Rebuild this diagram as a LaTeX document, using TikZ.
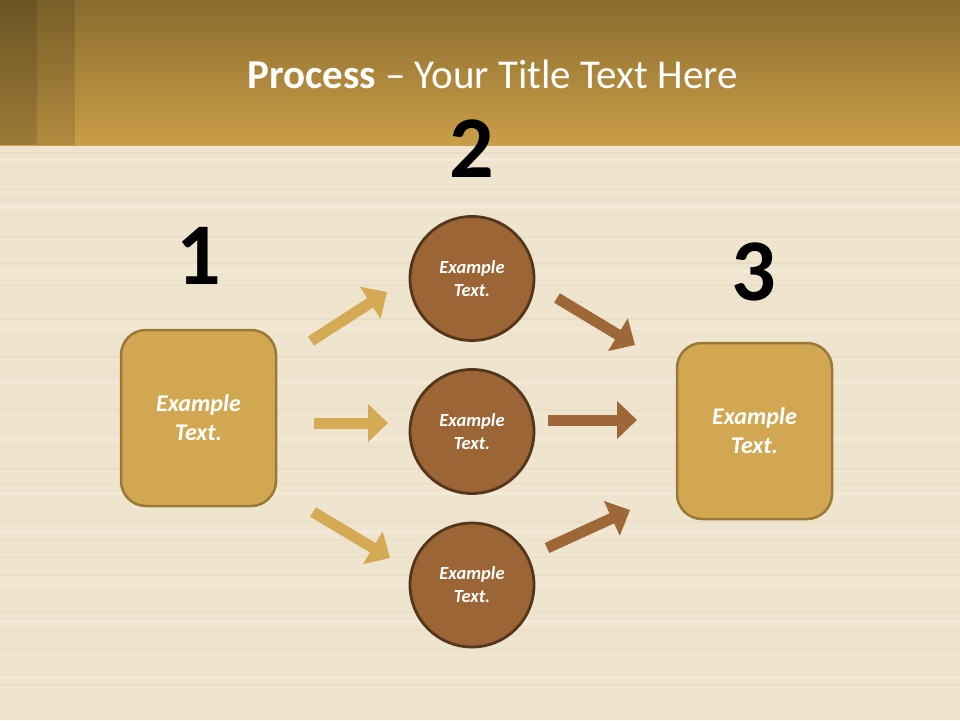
\documentclass[tikz,border=0pt]{standalone}
\usepackage{fontspec}
\setmainfont{Carlito}
\usetikzlibrary{arrows.meta}
\definecolor{woodbg}{RGB}{239,229,207}
\definecolor{woodline}{RGB}{214,200,170}
\definecolor{woodlight}{RGB}{248,242,228}
\definecolor{hdtop}{RGB}{138,108,46}
\definecolor{hdbot}{RGB}{202,158,72}
\definecolor{boxfill}{RGB}{209,167,82}
\definecolor{boxline}{RGB}{154,120,56}
\definecolor{circfill}{RGB}{155,101,53}
\definecolor{circline}{RGB}{85,54,26}
\definecolor{goldarrow}{RGB}{212,170,85}
\definecolor{brownarrow}{RGB}{158,103,56}
\tikzset{
  stepbox/.style={draw=boxline, line width=2.5pt, fill=boxfill, rounded corners=25pt,
    minimum width=155pt, minimum height=176pt, inner sep=0pt,
    text=white, font=\fontsize{24}{29}\selectfont\bfseries\itshape, align=center},
  stepcirc/.style={draw=circline, line width=2.8pt, fill=circfill, circle,
    minimum size=124pt, inner sep=0pt,
    text=white, font=\fontsize{18.5}{23}\selectfont\bfseries\itshape, align=center},
  bignum/.style={inner sep=0pt, font=\fontsize{88}{88}\selectfont\bfseries, text=black},
  garrow/.style={draw=goldarrow, line width=11pt, -{Triangle[length=20pt,width=37pt]}},
  barrow/.style={draw=brownarrow, line width=11pt, -{Triangle[length=20pt,width=37pt]}}
}
\begin{document}
\begin{tikzpicture}[x=1pt,y=1pt]
\useasboundingbox (0,0) rectangle (960,-720);
% wood background
\fill[woodbg] (0,0) rectangle (960,-720);
\foreach \yy/\oo in {152/0.3,166/0.2,188/0.18,199/0.25,214/0.15,236/0.22,262/0.25,284/0.18,301/0.15,318/0.22,356/0.25,372/0.15,391/0.18,409/0.22,446/0.18,468/0.25,483/0.15,521/0.22,539/0.15,556/0.18,574/0.25,611/0.18,629/0.22,648/0.15,684/0.25,701/0.15}
  \fill[woodline, opacity=\oo] (0,-\yy) rectangle (960,-\yy-1.5);
\foreach \yy in {158,205,270,327,381,438,492,530,583,620,676}
  \fill[woodlight, opacity=0.4] (0,-\yy) rectangle (960,-\yy-3);
% header
\shade[top color=hdtop, bottom color=hdbot] (0,0) rectangle (960,-145);
\fill[black, opacity=0.22] (0,0) rectangle (37,-145);
\fill[black, opacity=0.12] (37,0) rectangle (75,-145);
\node[anchor=base, inner sep=0pt, text=white, font=\fontsize{41}{46}\selectfont]
  (title) at (492.5,-88.5) {\textbf{Process} -- Your Title Text Here};
% numbers
\node[bignum] (n1) at (199,-256) {1};
\node[bignum] (n2) at (472,-149) {2};
\node[bignum] (n3) at (754,-272) {3};
% boxes
\node[stepbox] (b1) at (198.5,-418) {Example\\Text.};
\node[stepbox] (b3) at (754.5,-431) {Example\\Text.};
% circles
\node[stepcirc] (c1) at (472,-278.5) {Example\\Text.};
\node[stepcirc] (c2) at (472,-431.5) {Example\\Text.};
\node[stepcirc] (c3) at (472,-585) {Example\\Text.};
% arrow end points
\coordinate (l1s) at (311,-341);
\coordinate (l1e) at (387,-292);
\coordinate (l2s) at (314,-423);
\coordinate (l2e) at (388,-423);
\coordinate (l3s) at (313,-512);
\coordinate (l3e) at (390,-558);
\coordinate (r1s) at (557,-298);
\coordinate (r1e) at (635,-345);
\coordinate (r2s) at (548,-420);
\coordinate (r2e) at (637,-420);
\coordinate (r3s) at (547,-548);
\coordinate (r3e) at (630,-510);
\draw[garrow] (l1s) -- (l1e);
\draw[garrow] (l2s) -- (l2e);
\draw[garrow] (l3s) -- (l3e);
\draw[barrow] (r1s) -- (r1e);
\draw[barrow] (r2s) -- (r2e);
\draw[barrow] (r3s) -- (r3e);
\end{tikzpicture}
\end{document}
